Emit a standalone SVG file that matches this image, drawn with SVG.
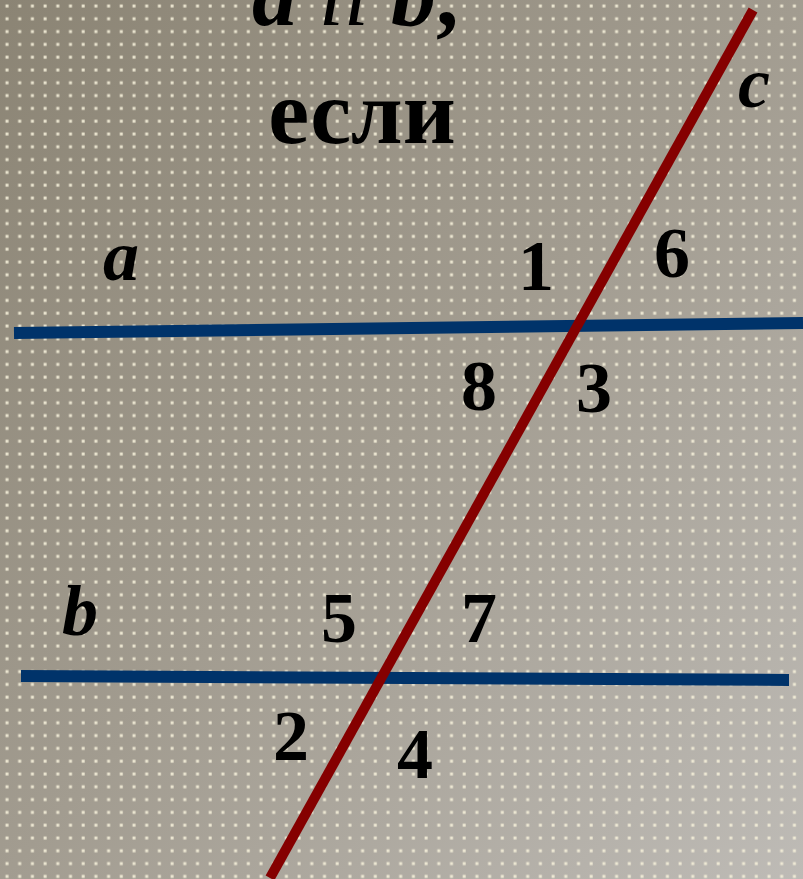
<svg xmlns="http://www.w3.org/2000/svg" width="803" height="879" viewBox="0 0 803 879">
  <defs>
    <linearGradient id="bg" x1="0" y1="0" x2="1" y2="1">
      <stop offset="0" stop-color="#8b8474"/>
      <stop offset="0.5" stop-color="#a29c90"/>
      <stop offset="1" stop-color="#bebbb6"/>
    </linearGradient>
    <pattern id="dots" x="0" y="0" width="12.7" height="12.8" patternUnits="userSpaceOnUse">
      <rect x="5.5" y="4.5" width="3" height="3" fill="#f4efd9" opacity="0.9"/>
    </pattern>
    <style>
      .t { font-family: "Liberation Serif", "Times New Roman", serif; font-weight: bold; fill: #000; }
      .num { font-size: 72px; text-anchor: middle; }
      .var { font-size: 72px; font-style: italic; text-anchor: middle; }
      .line-blue { stroke: #00336a; stroke-width: 12; }
      .line-red { stroke: #850000; stroke-width: 10; }
    </style>
  </defs>
  <rect width="803" height="879" fill="url(#bg)"/>
  <rect width="803" height="879" fill="url(#dots)"/>

  <g id="title" class="t">
    <text x="252" y="25" font-size="90"><tspan font-style="italic">a</tspan><tspan font-style="italic" font-weight="normal" dx="22">ll</tspan><tspan font-style="italic" dx="22">b</tspan>,</text>
    <text x="362" y="143" font-size="92" text-anchor="middle">если</text>
  </g>

  <g id="connectors">
    <line id="line-a" class="line-blue" x1="14" y1="333" x2="803" y2="323"/>
    <line id="line-b" class="line-blue" x1="21" y1="676" x2="789" y2="680"/>
    <line id="line-c" class="line-red" x1="753" y1="10" x2="270" y2="878"/>
  </g>

  <g id="labels" class="t">
    <text class="var" x="121" y="280">a</text>
    <text class="var" x="80" y="635">b</text>
    <text class="var" x="754" y="107">c</text>
    <text class="num" x="536" y="290">1</text>
    <text class="num" x="672" y="277">6</text>
    <text class="num" x="479" y="410">8</text>
    <text class="num" x="594" y="412">3</text>
    <text class="num" x="339" y="642">5</text>
    <text class="num" x="479" y="642">7</text>
    <text class="num" x="291" y="760">2</text>
    <text class="num" x="415" y="778">4</text>
  </g>
</svg>
